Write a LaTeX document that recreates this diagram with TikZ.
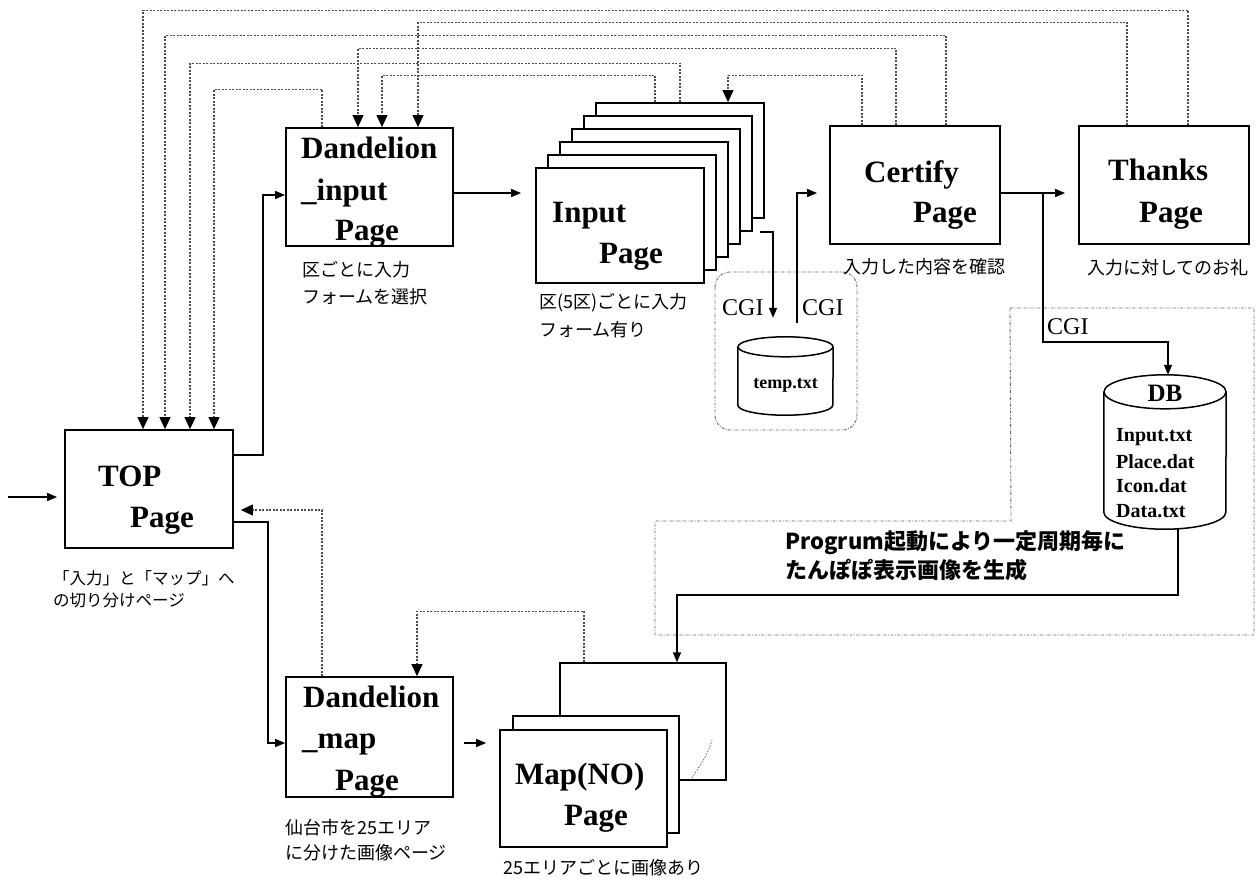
\documentclass[tikz,border=0pt]{standalone}
\usepackage{fontspec}
\setmainfont{Liberation Serif}
\newfontfamily\jp{Noto Sans CJK JP}
\usetikzlibrary{arrows.meta,calc}
\begin{document}
\begin{tikzpicture}[x=1pt,y=-1pt,
  box/.style={draw,line width=1.8pt,fill=white,inner sep=0pt},
  ttl/.style={font=\fontsize{31}{34}\selectfont\bfseries,anchor=base west,inner sep=0pt},
  jl/.style={font=\jp\fontsize{18}{22}\selectfont,anchor=west,inner sep=0pt},
  jls/.style={font=\jp\fontsize{16.5}{20}\selectfont,anchor=west,inner sep=0pt},
  jlb/.style={font=\jp\bfseries\fontsize{22}{26}\selectfont,anchor=west,inner sep=0pt},
  cgi/.style={font=\fontsize{24}{26}\selectfont,anchor=base west,inner sep=0pt},
  dbt/.style={font=\fontsize{20}{22}\selectfont\bfseries,anchor=west,inner sep=0pt},
  sol/.style={line width=1.5pt,-{Triangle[length=10pt,width=8pt]}},
  dotl/.style={line width=1.1pt,draw=black!70,dash pattern=on 2pt off 1.5pt,-{Triangle[length=12pt,width=11pt,black]}},
  bnd/.style={line width=0.9pt,draw=black!60,dash pattern=on 3pt off 1.5pt on 0.8pt off 1.5pt},
  cyl/.style={line width=1.5pt},
  holder/.style={inner sep=0pt,draw=none}
]
\fill[white] (0,0) rectangle (1258,879);
\useasboundingbox (0,0) rectangle (1258,879);

% boundary regions
\draw[bnd,rounded corners=15pt] (715,272) rectangle (857,430);
\draw[bnd] (1010,308) -- (1254,308) -- (1254,635) -- (655,635) -- (655,521) -- (1011,521) -- cycle;

% boxes
\node[box,minimum width=168pt,minimum height=118pt] (top) at (149,489) {};
\node[box,minimum width=167pt,minimum height=118pt] (din) at (369.5,187) {};
\foreach \i in {5,4,3,2,1,0}
  \node[box,minimum width=168pt,minimum height=115pt] (inp\i) at ({620+12*\i},{225.5-13*\i}) {};
\node[box,minimum width=170pt,minimum height=118pt] (cert) at (915,185) {};
\node[box,minimum width=170pt,minimum height=118pt] (thx) at (1164,185) {};
\node[box,minimum width=167pt,minimum height=120pt] (dmap) at (369.5,737) {};
\node[box,line width=1.4pt,minimum width=166pt,minimum height=117pt] (map2) at (643,721.5) {};
\node[box,minimum width=166pt,minimum height=117pt] (map1) at (596,774.5) {};
\node[box,minimum width=167pt,minimum height=117pt] (map0) at (583.5,788.5) {};
\draw[black!60,line width=0.8pt,dash pattern=on 1.5pt off 1.5pt] (692,778) .. controls (700,765) and (708,755) .. (712,740);

% cylinders
\node[holder,minimum width=95pt,minimum height=78pt] (temp) at (785.5,376) {};
\draw[cyl,fill=white] ($(temp.north west)+(0,10)$) -- ($(temp.south west)+(0,-10)$)
  arc[start angle=180,end angle=0,x radius=47.5,y radius=10] -- ($(temp.north east)+(0,10)$);
\draw[cyl] ($(temp.north)+(0,10)$) ellipse[x radius=47.5,y radius=10];
\node[holder,minimum width=122pt,minimum height=154pt] (db) at (1165,452) {};
\draw[cyl,fill=white] ($(db.north west)+(0,17)$) -- ($(db.south west)+(0,-17)$)
  arc[start angle=180,end angle=0,x radius=61,y radius=17] -- ($(db.north east)+(0,17)$);
\draw[cyl] ($(db.north)+(0,17)$) ellipse[x radius=61,y radius=17];

% dotted return connectors
\draw[dotl] ($(thx.north)+(24,0)$) -- ++(0,-115) -| ($(top.north)+(-6,0)$);
\draw[dotl] ($(thx.north)+(-37,0)$) -- ++(0,-103) -| ($(din.north)+(48.5,0)$);
\draw[dotl] ($(cert.north)+(31,0)$) -- ++(0,-90) -| ($(top.north)+(16,0)$);
\draw[dotl] ($(cert.north)+(-19,0)$) -- ++(0,-77) -| ($(din.north)+(-11.5,0)$);
\draw[dotl] (inp5.north) -- ++(0,-39) -| ($(top.north)+(41,0)$);
\draw[dotl] ($(inp5.north)+(-25,0)$) -- ++(0,-27) -| ($(din.north)+(12.5,0)$);
\draw[dotl] ($(cert.north)+(-53,0)$) -- ++(0,-50) -| ($(inp5.north)+(48,0)$);
\draw[dotl] ($(din.north)+(-47.5,0)$) -- ++(0,-38) -| ($(top.north)+(65,0)$);
\draw[dotl] ($(dmap.north)+(-47.5,0)$) |- ($(top.east)+(7,21)$);
\draw[dotl] ($(map2.north)+(-59,0)$) -- ++(0,-51) -| ($(dmap.north)+(47.5,0)$);

% solid connectors
\coordinate (ent) at (8,497);
\draw[sol,shorten >=7pt] (ent) -- (ent -| top.west);
\draw[sol] ($(top.north east)+(0,26)$) -- ++(29,0) |- ($(din.west)+(0,8)$);
\draw[sol] ($(top.north east)+(0,93)$) -- ++(34,0) |- ($(dmap.west)+(0,6)$);
\coordinate (e1) at ($(din.east)+(0,6)$);
\draw[sol,shorten >=14pt] (e1) -- (e1 -| inp0.west);
\coordinate (f1) at (760,232);
\draw[sol] (f1) -| ($(temp.north)+(-12.5,-19)$);
\draw[sol] ($(temp.north)+(11.5,-14)$) |- ($(cert.west)+(-12,8)$);
\coordinate (h1) at ($(cert.east)+(0,8)$);
\draw[sol,shorten >=13pt] (h1) -- (h1 -| thx.west);
\draw[sol] ($(h1)+(42,0)$) -- ++(0,149) -| (db.north -| 1168,0);
\draw[sol] ($(db.south)+(13,0)$) -- ++(0,66) -| ($(map2.north)+(34,0)$);
\coordinate (l1) at ($(dmap.east)+(10,6)$);
\draw[sol,shorten >=13pt] (l1) -- (l1 -| map0.west);

% box titles
\node[ttl] (t1) at (98,486) {TOP};
\node[ttl] (t2) at (130,527) {Page};
\node[ttl] (t3) at (301,158) {Dandelion};
\node[ttl] (t4) at (301,200) {\_input};
\node[ttl] (t5) at (335,240) {Page};
\node[ttl] (t6) at (552,222) {Input};
\node[ttl] (t7) at (599,263) {Page};
\node[ttl] (t8) at (864,182) {Certify};
\node[ttl] (t9) at (913,222) {Page};
\node[ttl] (t10) at (1108,180) {Thanks};
\node[ttl] (t11) at (1139,222) {Page};
\node[ttl] (t12) at (303,707) {Dandelion};
\node[ttl] (t13) at (302,748) {\_map};
\node[ttl] (t14) at (335,790) {Page};
\node[ttl] (t15) at (515,784) {Map(NO)};
\node[ttl] (t16) at (564,825) {Page};

% CGI labels
\node[cgi] (c1) at (722,315) {CGI};
\node[cgi] (c2) at (802,315) {CGI};
\node[cgi] (c3) at (1047,334) {CGI};

% DB texts
\node[font=\fontsize{25}{27}\selectfont\bfseries,inner sep=0pt] (dbh) at (1165,393) {DB};
\node[dbt] (d1) at (1116,437) {Input.txt};
\node[dbt] (d2) at (1116,462) {Place.dat};
\node[dbt] (d3) at (1116,486) {Icon.dat};
\node[dbt] (d4) at (1116,511) {Data.txt};
\node[font=\fontsize{18}{20}\selectfont\bfseries,inner sep=0pt] (tt) at (785.5,385) {temp.txt};

% Japanese labels
\node[jl] (j1) at (302,270) {区ごとに入力};
\node[jl] (j2) at (302,297) {フォームを選択};
\node[jl] (j3) at (539,303) {区(5区)ごとに入力};
\node[jl] (j4) at (539,330) {フォーム有り};
\node[jl] (j5) at (843,267) {入力した内容を確認};
\node[jl] (j6) at (1087,268) {入力に対してのお礼};
\node[jls] (j7) at (53,578) {「入力」と「マップ」へ};
\node[jls] (j8) at (53,600) {の切り分けページ};
\node[jl] (j9) at (285,828) {仙台市を25エリア};
\node[jl] (j10) at (285,853) {に分けた画像ページ};
\node[jl] (j11) at (503,868) {25エリアごとに画像あり};
\node[jlb] (j12) at (785,543) {Progrum起動により一定周期毎に};
\node[jlb] (j13) at (785,570) {たんぽぽ表示画像を生成};
\end{tikzpicture}
\end{document}
